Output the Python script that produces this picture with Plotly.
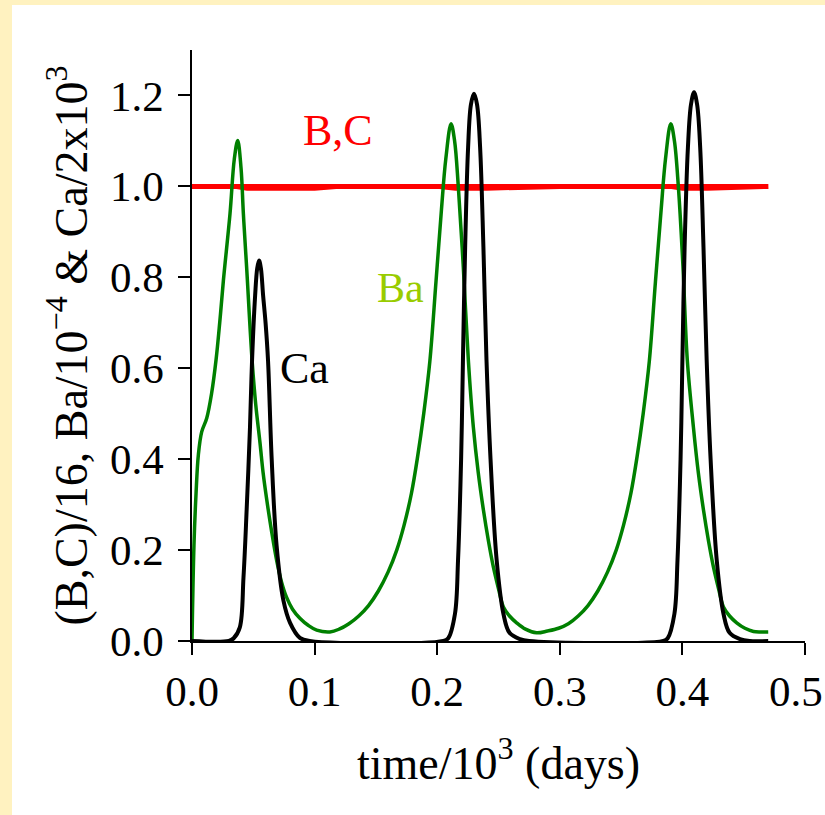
import plotly.graph_objects as go

# ---- data (time / 10^3 days) ----
ba_t = [0, 0.0016, 0.0033, 0.0052, 0.0079, 0.012, 0.016, 0.0196, 0.0226, 0.0256, 0.031,
        0.0345, 0.0373, 0.040, 0.0419, 0.0446, 0.049, 0.052, 0.0555, 0.058, 0.061, 0.065,
        0.069, 0.073, 0.077, 0.082, 0.088, 0.095, 0.1017, 0.1125,
        0.120, 0.128, 0.136, 0.144, 0.152, 0.160, 0.167, 0.173, 0.179, 0.184, 0.189,
        0.194, 0.199, 0.2035, 0.207, 0.2113, 0.2142, 0.2172, 0.2213, 0.2254,
        0.2295, 0.2335, 0.2377, 0.2418, 0.2458, 0.250, 0.254, 0.259, 0.2648, 0.272, 0.281,
        0.290, 0.299, 0.307, 0.315, 0.323, 0.331, 0.339, 0.346, 0.352, 0.358, 0.363,
        0.368, 0.373, 0.378, 0.3827, 0.3862, 0.3905, 0.3935, 0.3967, 0.4005,
        0.404, 0.409, 0.413, 0.4172, 0.4213, 0.4253, 0.4295, 0.4335, 0.4385, 0.4443,
        0.451, 0.458, 0.464, 0.47]
ba_v = [0, 0.21, 0.325, 0.41, 0.46, 0.49, 0.545, 0.618, 0.70, 0.793, 0.94,
        1.06, 1.101, 1.04, 0.94, 0.82, 0.618, 0.52, 0.435, 0.37, 0.31, 0.24,
        0.178, 0.13, 0.097, 0.07, 0.05, 0.034, 0.024, 0.02,
        0.026, 0.038, 0.055, 0.078, 0.110, 0.152, 0.200, 0.255, 0.325, 0.405, 0.500,
        0.615, 0.79, 0.95, 1.06, 1.138, 1.10, 1.0, 0.822, 0.618,
        0.47, 0.37, 0.288, 0.22, 0.163, 0.115, 0.075, 0.055, 0.04, 0.026, 0.018,
        0.022, 0.028, 0.038, 0.055, 0.078, 0.110, 0.152, 0.200, 0.255, 0.325, 0.405,
        0.500, 0.615, 0.79, 0.95, 1.06, 1.138, 1.10, 1.0, 0.822,
        0.618, 0.47, 0.37, 0.288, 0.22, 0.163, 0.115, 0.075, 0.055, 0.04,
        0.028, 0.021, 0.02, 0.02]

ca_t = [0, 0.030, 0.034, 0.039, 0.042, 0.0446, 0.0473, 0.049, 0.0515, 0.0532, 0.0547,
        0.0562, 0.058, 0.060, 0.062, 0.065, 0.069, 0.0745, 0.080, 0.088, 0.096,
        0.205, 0.209, 0.2145, 0.217, 0.2195, 0.221, 0.2228, 0.2252, 0.2275, 0.230,
        0.2325, 0.235, 0.2377, 0.2402, 0.2435, 0.2485, 0.254, 0.259, 0.2675, 0.275,
        0.3845, 0.388, 0.3935, 0.396, 0.3985, 0.400, 0.4018, 0.4045, 0.407, 0.4095,
        0.412, 0.4145, 0.4172, 0.4198, 0.423, 0.428, 0.4335, 0.4385, 0.447, 0.455, 0.47]
ca_v = [0, 0, 0.006, 0.03, 0.14, 0.29, 0.47, 0.618, 0.76, 0.82, 0.837,
        0.82, 0.76, 0.70, 0.618, 0.40, 0.21, 0.09, 0.04, 0.007, 0,
        0, 0.006, 0.06, 0.178, 0.40, 0.618, 0.866, 1.086, 1.18, 1.204,
        1.18, 1.086, 0.866, 0.618, 0.40, 0.178, 0.06, 0.018, 0.004, 0,
        0, 0.006, 0.06, 0.178, 0.40, 0.618, 0.866, 1.086, 1.18, 1.207,
        1.18, 1.086, 0.866, 0.618, 0.40, 0.178, 0.06, 0.018, 0.004, 0, 0]

b_t = [0, 0.47]
b_v = [1.0, 1.0]
c_t = [0, 0.035, 0.045, 0.10, 0.12, 0.20, 0.215, 0.24, 0.30, 0.39, 0.40, 0.42, 0.47]
c_v = [1.0, 1.0, 0.996, 0.996, 1.0, 1.0, 0.996, 0.996, 1.0, 1.0, 0.996, 0.996, 1.0]

x_ticks = [0.0, 0.1, 0.2, 0.3, 0.4, 0.5]
y_ticks = [0.0, 0.2, 0.4, 0.6, 0.8, 1.0, 1.2]

FONT = "Liberation Serif"
TICK_SIZE = 43

fig = go.Figure()
fig.add_trace(go.Scatter(x=b_t, y=b_v, mode="lines", line=dict(color="#ff0000", width=5), name="B"))
fig.add_trace(go.Scatter(x=c_t, y=c_v, mode="lines", line=dict(color="#ff0000", width=5), name="C"))
fig.add_trace(go.Scatter(x=ba_t, y=ba_v, mode="lines",
                         line=dict(color="#008000", width=3.5, shape="spline", smoothing=1.0), name="Ba"))
fig.add_trace(go.Scatter(x=ca_t, y=ca_v, mode="lines",
                         line=dict(color="#000000", width=4, shape="spline", smoothing=1.0), name="Ca"))

L, R, T, B = 192, 20, 50, 174
W, H = 825, 815
pw, ph = W - L - R, H - T - B
def px(x):
    return (x - L) / pw
def py(y):
    return (H - B - y) / ph

beige = "#FFF2C0"
fig.add_shape(type="rect", xref="paper", yref="paper", x0=px(0), x1=px(W), y0=py(5), y1=py(0),
              fillcolor=beige, line_width=0, layer="below")
fig.add_shape(type="rect", xref="paper", yref="paper", x0=px(0), x1=px(12), y0=py(H), y1=py(0),
              fillcolor=beige, line_width=0, layer="below")

fig.add_annotation(x=0.119, y=1.123, text="B,C", showarrow=False,
                   font=dict(family=FONT, size=44, color="#ff0000"))
fig.add_annotation(x=0.170, y=0.776, text="Ba", showarrow=False,
                   font=dict(family=FONT, size=42, color="#99cc00"))
fig.add_annotation(x=0.092, y=0.60, text="Ca", showarrow=False,
                   font=dict(family=FONT, size=44, color="#000000"))

# last x tick label would run past the page edge (it is cut off in the original);
# place it flush with the right edge so it stays visible
last_tick = x_ticks[-1]
fig.add_annotation(x=px(W), xref="paper", y=0, yref="paper", yshift=-50,
                   text=f"{last_tick:.1f}", showarrow=False, xanchor="right", yanchor="middle",
                   font=dict(family=FONT, size=TICK_SIZE, color="black"))

axis_common = dict(showline=True, linecolor="black", linewidth=1.5, ticks="outside",
                   ticklen=12, tickwidth=1.5, tickcolor="black", showgrid=False,
                   zeroline=False, tickformat=".1f",
                   tickfont=dict(family=FONT, size=TICK_SIZE, color="black"))

fig.update_layout(
    width=W, height=H,
    margin=dict(l=L, r=R, t=T, b=B),
    paper_bgcolor="white", plot_bgcolor="white",
    showlegend=False,
    xaxis=dict(range=[0, 0.5], tickvals=x_ticks, **axis_common,
               title=dict(text="time/10<sup>3</sup> (days)", standoff=32,
                          font=dict(family=FONT, size=46, color="black"))),
    yaxis=dict(range=[0, 1.3], tickvals=y_ticks, ticklabelstandoff=6, **axis_common,
               title=dict(text="(B,C)/16, Ba/10<sup>−4</sup> & Ca/2x10<sup>3</sup>", standoff=8,
                          font=dict(family=FONT, size=46, color="black"))),
)

fig.write_html("out.html")
